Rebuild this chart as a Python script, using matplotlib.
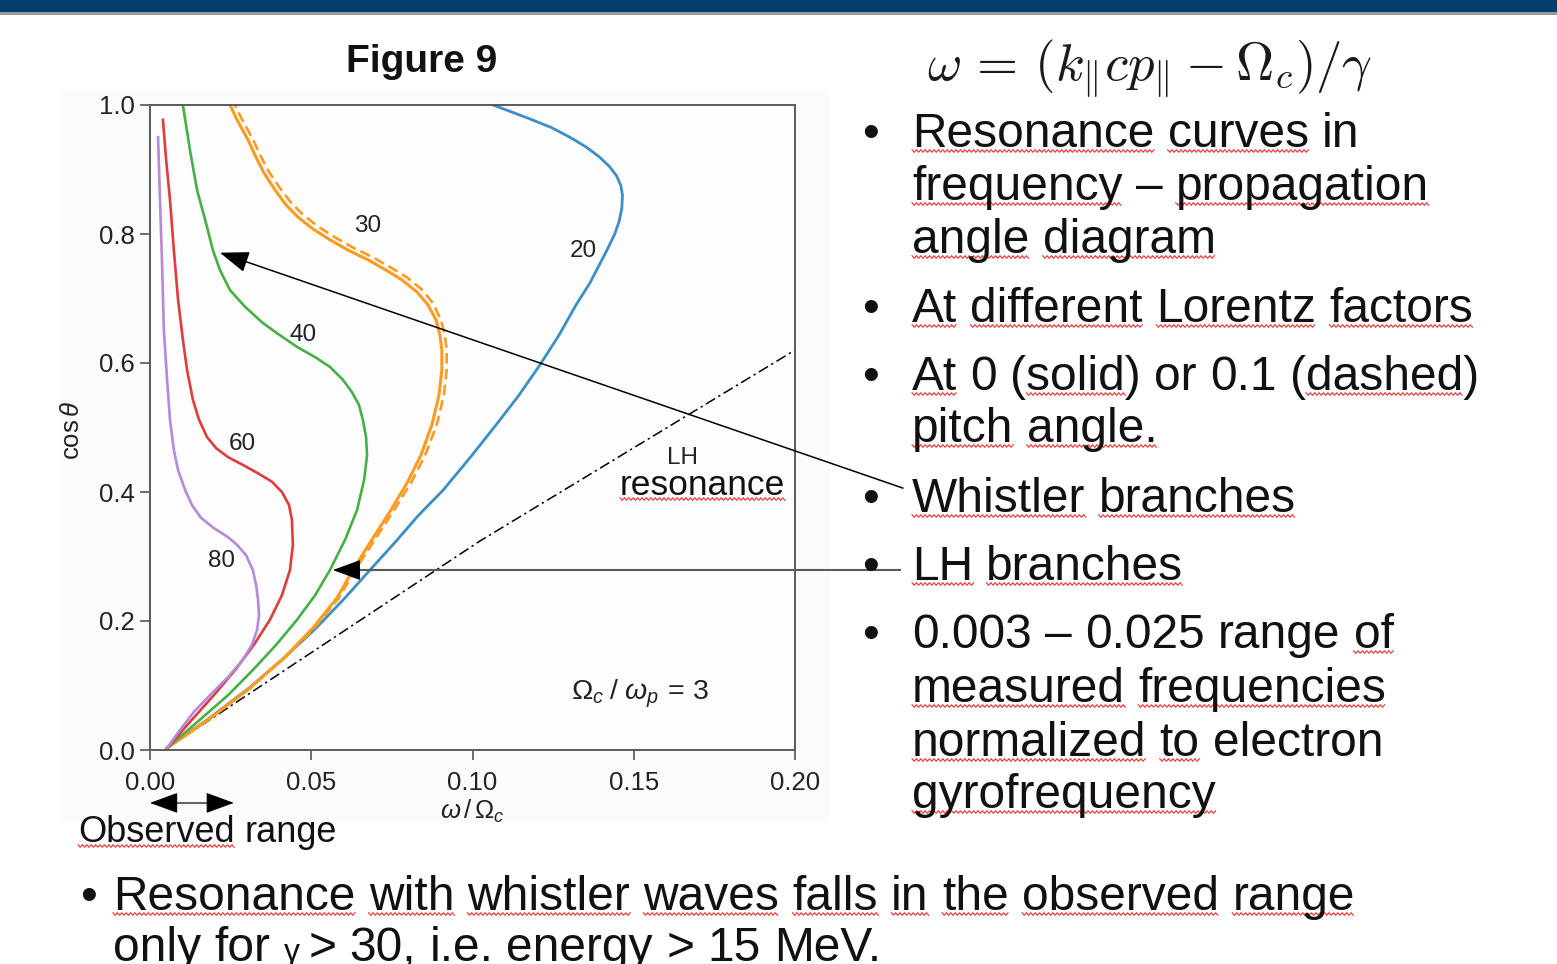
import numpy as np
import matplotlib
matplotlib.use("Agg")
import matplotlib.pyplot as plt
from matplotlib.font_manager import FontProperties
from matplotlib.lines import Line2D
from matplotlib.patches import Rectangle

W, H = 1557, 964

# resonance curves, omega/Omega_c against cos(theta), listed from the origin upwards
freq_g20 = [0.0053, 0.0186, 0.0307, 0.0416, 0.0515, 0.0605, 0.0682, 0.0760, 0.0831,
            0.0909, 0.0992, 0.1073, 0.1144, 0.1209, 0.1268, 0.1321, 0.1364, 0.1417,
            0.1441, 0.1455, 0.1463, 0.1465, 0.1460, 0.1447, 0.1424, 0.1392, 0.1352,
            0.1302, 0.1245, 0.1170, 0.1064]
cos_g20 = [0.003, 0.050, 0.096, 0.143, 0.189, 0.236, 0.279, 0.322, 0.363,
           0.403, 0.453, 0.504, 0.550, 0.597, 0.643, 0.690, 0.724, 0.775,
           0.800, 0.820, 0.840, 0.860, 0.875, 0.890, 0.905, 0.920, 0.935,
           0.950, 0.965, 0.980, 1.000]

freq_g30 = [0.0053, 0.0189, 0.0310, 0.0416, 0.0505, 0.0580, 0.0629, 0.0688, 0.0747,
            0.0797, 0.0840, 0.0874, 0.0896, 0.0905, 0.0905, 0.0899, 0.0887, 0.0862,
            0.0828, 0.0781, 0.0732, 0.0676, 0.0614, 0.0558, 0.0505, 0.0459, 0.0422,
            0.0388, 0.0353, 0.0326, 0.0304, 0.0273, 0.0248]
cos_g30 = [0.003, 0.050, 0.096, 0.143, 0.189, 0.236, 0.279, 0.326, 0.372,
           0.414, 0.457, 0.504, 0.550, 0.589, 0.620, 0.643, 0.667, 0.690,
           0.710, 0.729, 0.744, 0.760, 0.775, 0.791, 0.808, 0.826, 0.845,
           0.868, 0.895, 0.922, 0.946, 0.974, 1.000]

# same Lorentz factor, 0.1 pitch angle
freq_g30_pitch = [0.0053, 0.0189, 0.0310, 0.0418, 0.0509, 0.0586, 0.0636, 0.0697, 0.0757,
                  0.0809, 0.0853, 0.0889, 0.0911, 0.0920, 0.0920, 0.0914, 0.0902, 0.0877,
                  0.0843, 0.0796, 0.0747, 0.0691, 0.0629, 0.0573, 0.0520, 0.0474, 0.0437,
                  0.0403, 0.0368, 0.0341, 0.0319, 0.0288, 0.0263]
cos_g30_pitch = [0.003, 0.050, 0.096, 0.143, 0.189, 0.236, 0.279, 0.326, 0.372,
                 0.414, 0.457, 0.504, 0.550, 0.589, 0.620, 0.643, 0.667, 0.693,
                 0.714, 0.733, 0.748, 0.764, 0.779, 0.795, 0.812, 0.830, 0.849,
                 0.871, 0.897, 0.923, 0.947, 0.975, 1.000]

freq_g40 = [0.0053, 0.0155, 0.0242, 0.0319, 0.0391, 0.0456, 0.0512, 0.0558, 0.0605,
            0.0642, 0.0664, 0.0673, 0.0670, 0.0660, 0.0648, 0.0626, 0.0598, 0.0558,
            0.0512, 0.0456, 0.0403, 0.0350, 0.0295, 0.0248, 0.0217, 0.0195, 0.0171,
            0.0146, 0.0124, 0.0102]
cos_g40 = [0.003, 0.047, 0.085, 0.124, 0.163, 0.202, 0.240, 0.279, 0.326,
           0.372, 0.419, 0.457, 0.485, 0.512, 0.535, 0.555, 0.574, 0.594,
           0.609, 0.625, 0.643, 0.662, 0.687, 0.713, 0.744, 0.775, 0.822,
           0.868, 0.930, 1.000]

freq_g60 = [0.0053, 0.0130, 0.0198, 0.0264, 0.0322, 0.0372, 0.0409, 0.0434, 0.0443,
            0.0440, 0.0431, 0.0409, 0.0378, 0.0335, 0.0288, 0.0242, 0.0205, 0.0177,
            0.0152, 0.0133, 0.0115, 0.0102, 0.0087, 0.0074, 0.0062, 0.0050, 0.0040]
cos_g60 = [0.003, 0.047, 0.085, 0.124, 0.163, 0.202, 0.240, 0.279, 0.318,
           0.357, 0.380, 0.400, 0.416, 0.429, 0.442, 0.454, 0.468, 0.485,
           0.512, 0.543, 0.589, 0.636, 0.698, 0.775, 0.853, 0.915, 0.977]

freq_g80 = [0.0053, 0.0093, 0.0136, 0.0186, 0.0242, 0.0288, 0.0316, 0.0332, 0.0338,
            0.0335, 0.0329, 0.0319, 0.0298, 0.0270, 0.0242, 0.0198, 0.0158, 0.0130,
            0.0109, 0.0087, 0.0074, 0.0062, 0.0053, 0.0043, 0.0037, 0.0031, 0.0025]
cos_g80 = [0.003, 0.031, 0.059, 0.085, 0.113, 0.140, 0.163, 0.186, 0.209,
           0.233, 0.256, 0.279, 0.302, 0.318, 0.330, 0.344, 0.360, 0.380,
           0.403, 0.434, 0.465, 0.512, 0.574, 0.651, 0.760, 0.853, 0.950]

# lower hybrid resonance
freq_lh = [0.0053, 0.1023, 0.2000]
cos_lh = [0.003, 0.324, 0.620]

gamma_labels = ["20", "30", "40", "60", "80"]
label_freq = [0.1343, 0.0676, 0.0474, 0.0285, 0.0223]
label_cos = [0.774, 0.812, 0.643, 0.474, 0.293]

observed_range = [0.0, 0.026]

colors = {"20": "#3a8fc6", "30": "#ff9a22", "40": "#45b045",
          "60": "#e03c3c", "80": "#b48ad9"}

plt.rcParams["font.family"] = ["Liberation Sans", "DejaVu Sans"]
plt.rcParams["mathtext.fontset"] = "custom"
plt.rcParams["mathtext.rm"] = "Liberation Sans"
plt.rcParams["mathtext.it"] = "Liberation Sans:italic"
plt.rcParams["mathtext.bf"] = "Liberation Sans:bold"

fig = plt.figure(figsize=(W / 100, H / 100), dpi=100)
fig.patch.set_facecolor("white")

# header band
fig.add_artist(Rectangle((0, 1 - 12 / H), 1, 12 / H, color="#003f6e", lw=0, zorder=-2))
fig.add_artist(Rectangle((0, 1 - 15 / H), 1, 3 / H, color="#9a9a9a", lw=0, zorder=-2))
# faint panel behind the figure
fig.add_artist(Rectangle((60 / W, 1 - 822 / H), 770 / W, 732 / H, color="#fbfbfb",
                         lw=0, zorder=-2))

ax = fig.add_axes([150 / W, 1 - 750 / H, 645 / W, 645 / H])
ax.set_facecolor("#fdfdfd")
ax.plot(freq_lh, cos_lh, color="black", lw=1.1, ls=(0, (7, 2.5, 1.5, 2.5)))
ax.plot(freq_g20, cos_g20, color=colors["20"], lw=2.0)
ax.plot(freq_g30_pitch, cos_g30_pitch, color=colors["30"], lw=1.9, ls=(0, (4, 2)))
ax.plot(freq_g30, cos_g30, color=colors["30"], lw=2.2)
ax.plot(freq_g40, cos_g40, color=colors["40"], lw=1.9)
ax.plot(freq_g60, cos_g60, color=colors["60"], lw=1.9)
ax.plot(freq_g80, cos_g80, color=colors["80"], lw=1.9)

for lab, fx, fy in zip(gamma_labels, label_freq, label_cos):
    ax.text(fx, fy, lab, fontsize=17.5, ha="center", va="center", color="#222222")

ax.text(0.165, 0.453, "LH", fontsize=17.5, ha="center", va="center", color="#222222")
ax.text(0.152, 0.087, r"$\Omega_c\;/\;\omega_p\,=\,3$", fontsize=20.5,
        ha="center", va="center", color="#222222")

ax.set_xlim(0, 0.2)
ax.set_ylim(0, 1)
ax.set_xticks([0.0, 0.05, 0.10, 0.15, 0.20])
ax.set_xticklabels(["0.00", "0.05", "0.10", "0.15", "0.20"])
ax.set_yticks([0.0, 0.2, 0.4, 0.6, 0.8, 1.0])
ax.set_yticklabels(["0.0", "0.2", "0.4", "0.6", "0.8", "1.0"])
ax.tick_params(direction="out", length=7, width=1.2, color="#555555",
               labelsize=18.5, labelcolor="#222222", pad=4)
ax.tick_params(axis="x", pad=8)
for sp in ax.spines.values():
    sp.set_color("#5a5a5a")
    sp.set_linewidth(1.4)

ax.text((72 - 150) / 645, (750 - 430) / 645, r"$\cos\theta$", transform=ax.transAxes,
        rotation=90, ha="center", va="center", fontsize=18.5, color="#222222")
ax.text((472 - 150) / 645, -(811 - 750) / 645, r"$\omega\,/\,\Omega_c$",
        transform=ax.transAxes, ha="center", va="center", fontsize=18.5, color="#222222")

head_style = "-|>,head_length=0.6,head_width=0.22"


def arrow_head(tip, back):
    ax.annotate("", xy=tip, xytext=back, annotation_clip=False,
                arrowprops=dict(arrowstyle=head_style, mutation_scale=30, color="black",
                                lw=0.8, shrinkA=0, shrinkB=0))


# whistler branch pointer
ax.annotate("", xy=(0.0217, 0.771), xytext=(0.2335, 0.406), annotation_clip=False,
            arrowprops=dict(arrowstyle=head_style, mutation_scale=30, color="black",
                            lw=1.1, shrinkA=0, shrinkB=0))
# lower hybrid branch pointer
ax.plot([0.063, 0.2326], [0.279, 0.279], color="#5a5a5a", lw=1.5, clip_on=False)
arrow_head((0.0567, 0.279), (0.0647, 0.279))

# observed frequency band under the axis
ax.plot([observed_range[0] + 0.005, observed_range[1] - 0.005], [-0.082, -0.082],
        color="#666666", lw=1.5, clip_on=False)
arrow_head((observed_range[0], -0.082), (observed_range[0] + 0.0078, -0.082))
arrow_head((observed_range[1], -0.082), (observed_range[1] - 0.0078, -0.082))

renderer = fig.canvas.get_renderer()


def text_width(s, prop):
    return renderer.get_text_width_height_descent(s, prop, ismath=False)[0]


def squiggle(x0, x1, y):
    xs = np.arange(x0, x1 + 0.5, 2.2)
    ys = y + np.where(np.arange(len(xs)) % 2, 1.3, -1.3)
    fig.add_artist(Line2D(xs / W, 1 - ys / H, color="#ff2b2b", lw=0.8))


def slide_line(x, base, line, size=34.5):
    # words starting with "~" get the wavy spell-check underline
    prop = FontProperties(family="Liberation Sans", size=size)
    space = text_width("n n", prop) - text_width("nn", prop)
    for word in line.split(" "):
        wavy = word.startswith("~")
        word = word.lstrip("~")
        w = text_width(word, prop)
        fig.text(x / W, 1 - base / H, word, fontproperties=prop,
                 ha="left", va="baseline", color="#111111")
        if wavy:
            a = x + (text_width("(", prop) if word.startswith("(") else 0)
            b = x + w - (text_width(")", prop) if word.endswith(")") else 0)
            squiggle(a, b, base + 4)
        x += w + space
    return x


def bullet(x, base, size=34.5):
    fig.text(x / W, 1 - base / H, "\u2022", fontsize=size, ha="center",
             va="baseline", color="#111111")


fig.text(422 / W, 1 - 72 / H, "Figure 9", fontsize=28, weight="bold",
         ha="center", va="baseline", color="#111111")
fig.text(1150 / W, 1 - 80 / H,
         r"$\omega\,=\,(k_{\Vert}cp_{\Vert} - \Omega_c)/\gamma$",
         fontsize=38, math_fontfamily="cm", ha="center", va="baseline", color="#1a1a1a")

right_lines = [
    ("~Resonance ~curves in", 147, True),
    ("~frequency \u2013 ~propagation", 200, False),
    ("~angle ~diagram", 253, False),
    ("~At ~different ~Lorentz ~factors", 322, True),
    ("~At 0 ~(solid) or 0.1 ~(dashed)", 390, True),
    ("~pitch ~angle.", 442, False),
    ("~Whistler ~branches", 512, True),
    ("~LH ~branches", 580, True),
    ("0.003 \u2013 0.025 range ~of", 648, True),
    ("~measured ~frequencies", 702, False),
    ("~normalized ~to electron", 756, False),
    ("~gyrofrequency", 808, False),
]
for line, base, has_bullet in right_lines:
    if has_bullet:
        bullet(870, base)
    slide_line(912, base, line)

slide_line(620, 495, "~resonance", size=25.5)
slide_line(78, 842, "~Observed range", size=26)

bullet(88, 910)
slide_line(113, 910, "~Resonance ~with ~whistler ~waves ~falls ~in ~the ~observed ~range")
x = slide_line(113, 961, "only for")
x = slide_line(x, 961, "\u03b3", size=23)
slide_line(x, 961, "> 30, i.e. energy > 15 MeV.")

fig.savefig("out.png", dpi=100, facecolor="white")
